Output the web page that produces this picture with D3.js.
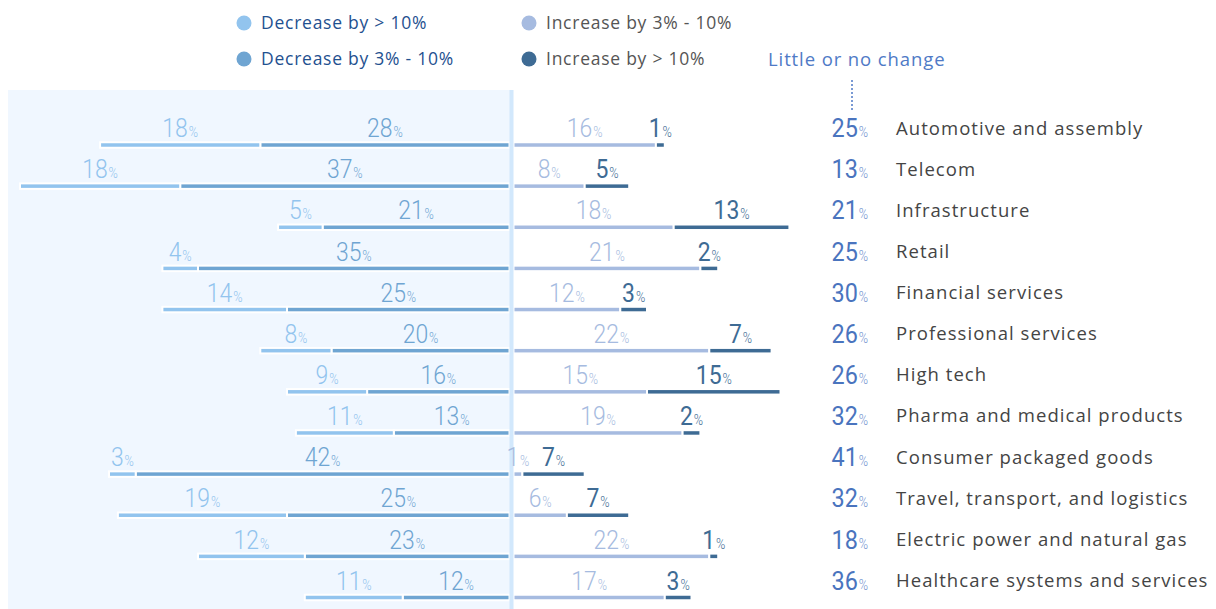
<!DOCTYPE html>
<html><head><meta charset="utf-8">
<script src="https://cdn.jsdelivr.net/npm/d3@7"></script>
<style>
html,body{margin:0;padding:0;background:#fff;}
svg{display:block;}
</style></head>
<body>
<svg id="chart" width="1216" height="609"></svg>
<script>
const categories = ["Automotive and assembly","Telecom","Infrastructure","Retail","Financial services","Professional services","High tech","Pharma and medical products","Consumer packaged goods","Travel, transport, and logistics","Electric power and natural gas","Healthcare systems and services"];
const decreaseOver10 = [18,18,5,4,14,8,9,11,3,19,12,11];
const decrease3to10 = [28,37,21,35,25,20,16,13,42,25,23,12];
const increase3to10 = [16,8,18,21,12,22,15,19,1,6,22,17];
const increaseOver10 = [1,5,13,2,3,7,15,2,7,7,1,3];
const littleOrNoChange = [25,13,21,25,30,26,26,32,41,32,18,36];
const seriesNames = ["Decrease by > 10%","Decrease by 3% - 10%","Increase by 3% - 10%","Increase by > 10%"];
const colors = ["#92c4ee","#6fa5d2","#a6bbe0","#3e6b94"];

const svg = d3.select("#chart");
const numFont = "Roboto,'DejaVu Sans Condensed',sans-serif";
const txtFont = "'Open Sans','Noto Sans',sans-serif";
const cx = 511.5;
const k = 8.9;
const len = d3.scaleLinear().domain([0,1]).range([0,k]);
const y = d3.scalePoint().domain(categories).range([145, 597.5]);

// panel
svg.append("rect").attr("x",8).attr("y",90).attr("width",cx-8).attr("height",519).attr("fill","#f0f7ff");

// bars
const segs = [];
categories.forEach((c,i)=>{
  const d1=decreaseOver10[i], d2=decrease3to10[i], i1=increase3to10[i], i2=increaseOver10[i];
  segs.push({c, s:0, x0:cx-2-len(d2), x1:cx-2, v:d2});
  segs.push({c, s:1, x0:cx-2-len(d2+d1), x1:cx-2-len(d2), v:d1});
  segs.push({c, s:2, x0:cx+2, x1:cx+2+len(i1), v:i1});
  segs.push({c, s:3, x0:cx+2+len(i1), x1:cx+2+len(i1+i2), v:i2});
});
const colorIdx = [1,0,2,3];
const barH = 5.5;
svg.append("g").selectAll("rect").data(segs).join("rect")
  .attr("x",d=>Math.min(d.x0,d.x1)).attr("width",d=>Math.abs(d.x1-d.x0))
  .attr("y",d=>y(d.c)-barH/2).attr("height",barH)
  .attr("fill",d=>colors[colorIdx[d.s]])
  .attr("stroke","#fff").attr("stroke-width",2);

// center line
svg.append("rect").attr("x",cx-2).attr("y",90).attr("width",4).attr("height",519).attr("fill","#d2e8fc");

const sx = 0.9;
// labels
const lab = svg.append("g").selectAll("text").data(segs).join("text")
  .attr("transform",d=>`translate(${(d.x0+d.x1)/2},${y(d.c)-7.8}) scale(${sx},1)`)
  .attr("text-anchor","middle")
  .attr("font-family",numFont).attr("font-weight",d=>d.s===3?400:300)
  .attr("fill",d=>colors[colorIdx[d.s]]);
lab.append("tspan").attr("font-size",25.5).text(d=>d.v);
lab.append("tspan").attr("font-size",14).attr("font-weight",300).attr("dx",1).text("%");

// little or no change
const lnc = svg.append("g").selectAll("text").data(categories).join("text")
  .attr("transform",c=>`translate(868,${y(c)-7.8}) scale(${sx},1)`).attr("text-anchor","end")
  .attr("font-family",numFont).attr("font-weight",300).attr("fill","#4a74be");
lnc.append("tspan").attr("font-size",26).attr("font-weight",400).text((c,i)=>littleOrNoChange[i]);
lnc.append("tspan").attr("font-size",14).attr("fill","#6f92cf").attr("dx",1).text("%");

// category labels
svg.append("g").selectAll("text").data(categories).join("text")
  .attr("x",896).attr("y",c=>y(c)-10.5).attr("font-family",txtFont).attr("font-size",18.5)
  .attr("letter-spacing",1.05).attr("fill","#444").text(c=>c);

// legend
const leg = [{x:244,y:23,i:0,tc:"#1f5190"},{x:244,y:59,i:1,tc:"#1f5190"},{x:529,y:23,i:2,tc:"#555"},{x:529,y:59,i:3,tc:"#555"}];
const lg = svg.append("g").selectAll("g").data(leg).join("g");
lg.append("circle").attr("cx",d=>d.x).attr("cy",d=>d.y).attr("r",7.5).attr("fill",d=>colors[d.i]);
lg.append("text").attr("x",d=>d.x+17).attr("y",d=>d.y+6).attr("font-family",txtFont).attr("font-size",17.5)
  .attr("letter-spacing",0.75).attr("fill",d=>d.tc).text(d=>seriesNames[d.i]);
svg.append("text").attr("x",768).attr("y",65.5).attr("font-family",txtFont).attr("font-size",18.5)
  .attr("letter-spacing",0.9).attr("fill","#4f7ac6").text("Little or no change");
svg.append("line").attr("x1",852).attr("x2",852).attr("y1",80).attr("y2",110)
  .attr("stroke","#4f7ac6").attr("stroke-width",1.5).attr("stroke-dasharray","2,2");
</script>
</body></html>
